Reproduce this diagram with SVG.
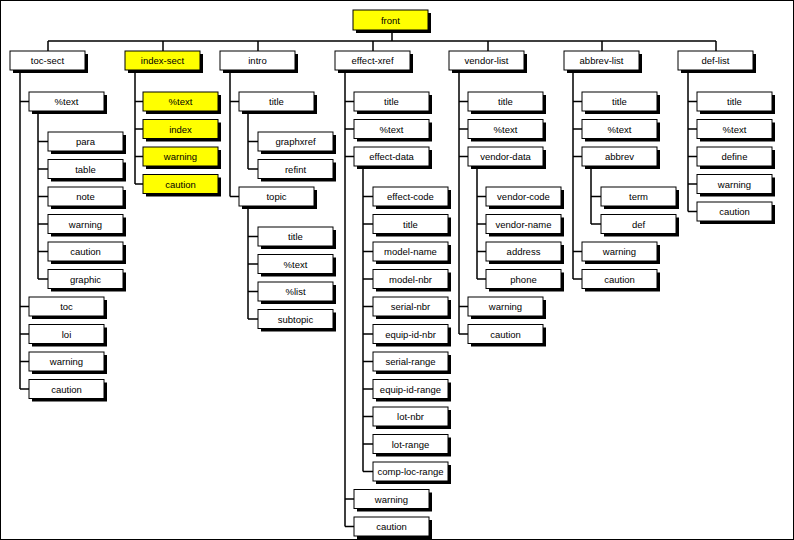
<svg xmlns="http://www.w3.org/2000/svg" width="794" height="540" viewBox="0 0 794 540">
<style>
.sh{fill:#000}
.bx{fill:#fff;stroke:#000;stroke-width:1}
.yl{fill:#ffff00}
.t{font-family:"Liberation Sans",Arial,sans-serif;font-size:9.5px;text-anchor:middle;fill:#000}
.c{fill:none;stroke:#000;stroke-width:1.5}
</style>
<defs>
<g id="box"><rect class="sh" x="3" y="3" width="75" height="19"/></g>
</defs>
<rect x="0.5" y="0.5" width="793" height="539" fill="#fff" stroke="#000" stroke-width="1"/>
<g id="connectors">
<path class="c" d="M392 30V41M48 41H716M48 41V51M163 41V51M258 41V51M373 41V51M488 41V51M602 41V51M716 41V51"/>
<!-- toc-sect -->
<path class="c" d="M20 70V389M20 101.5H29M20 306.5H29M20 334H29M20 361.5H29M20 389H29"/>
<path class="c" d="M38 111V279M38 141.5H48M38 169H48M38 196.5H48M38 224H48M38 251.5H48M38 279H48"/>
<!-- index-sect -->
<path class="c" d="M135 70V184M135 101.5H143M135 129H143M135 156.5H143M135 184H143"/>
<!-- intro -->
<path class="c" d="M230 70V196.5M230 101.5H239M230 196.5H239"/>
<path class="c" d="M248 111V169M248 141.5H258M248 169H258"/>
<path class="c" d="M248 206V319M248 236.5H258M248 264H258M248 291.5H258M248 319H258"/>
<!-- effect-xref -->
<path class="c" d="M345 70V526.5M345 101.5H354M345 129H354M345 156.5H354M345 499H354M345 526.5H354"/>
<path class="c" d="M363 166V471.5M363 196.5H373M363 224H373M363 251.5H373M363 279H373M363 306.5H373M363 334H373M363 361.5H373M363 389H373M363 416.5H373M363 444H373M363 471.5H373"/>
<!-- vendor-list -->
<path class="c" d="M459 70V334M459 101.5H468M459 129H468M459 156.5H468M459 306.5H468M459 334H468"/>
<path class="c" d="M477 166V279M477 196.5H486M477 224H486M477 251.5H486M477 279H486"/>
<!-- abbrev-list -->
<path class="c" d="M573 70V279M573 101.5H582M573 129H582M573 156.5H582M573 251.5H582M573 279H582"/>
<path class="c" d="M591 166V224M591 196.5H601M591 224H601"/>
<!-- def-list -->
<path class="c" d="M688 70V211.5M688 101.5H697M688 129H697M688 156.5H697M688 184H697M688 211.5H697"/>
</g>

<g id="front"><rect class="sh" x="356" y="13" width="75" height="20"/><rect class="bx yl" x="353" y="10" width="75" height="20"/><text class="t" x="390.5" y="23.5">front</text></g>

<g id="toc-sect"><use href="#box" x="10" y="51"/><rect class="bx" x="10" y="51" width="75" height="19"/><text class="t" x="47.5" y="64">toc-sect</text></g>
<g id="index-sect"><use href="#box" x="125" y="51"/><rect class="bx yl" x="125" y="51" width="75" height="19"/><text class="t" x="162.5" y="64">index-sect</text></g>
<g id="intro"><use href="#box" x="220" y="51"/><rect class="bx" x="220" y="51" width="75" height="19"/><text class="t" x="257.5" y="64">intro</text></g>
<g id="effect-xref"><use href="#box" x="335" y="51"/><rect class="bx" x="335" y="51" width="75" height="19"/><text class="t" x="372.5" y="64">effect-xref</text></g>
<g id="vendor-list"><use href="#box" x="449" y="51"/><rect class="bx" x="449" y="51" width="75" height="19"/><text class="t" x="486.5" y="64">vendor-list</text></g>
<g id="abbrev-list"><use href="#box" x="564" y="51"/><rect class="bx" x="564" y="51" width="75" height="19"/><text class="t" x="601.5" y="64">abbrev-list</text></g>
<g id="def-list"><use href="#box" x="678" y="51"/><rect class="bx" x="678" y="51" width="75" height="19"/><text class="t" x="715.5" y="64">def-list</text></g>

<!-- toc-sect children -->
<g id="toc-text"><use href="#box" x="29" y="92"/><rect class="bx" x="29" y="92" width="75" height="19"/><text class="t" x="66.5" y="105">%text</text></g>
<g id="toc-para"><use href="#box" x="48" y="132"/><rect class="bx" x="48" y="132" width="75" height="19"/><text class="t" x="85.5" y="145">para</text></g>
<g id="toc-table"><use href="#box" x="48" y="159.5"/><rect class="bx" x="48" y="159.5" width="75" height="19"/><text class="t" x="85.5" y="172.5">table</text></g>
<g id="toc-note"><use href="#box" x="48" y="187"/><rect class="bx" x="48" y="187" width="75" height="19"/><text class="t" x="85.5" y="200">note</text></g>
<g id="toc-warning1"><use href="#box" x="48" y="214.5"/><rect class="bx" x="48" y="214.5" width="75" height="19"/><text class="t" x="85.5" y="227.5">warning</text></g>
<g id="toc-caution1"><use href="#box" x="48" y="242"/><rect class="bx" x="48" y="242" width="75" height="19"/><text class="t" x="85.5" y="255">caution</text></g>
<g id="toc-graphic"><use href="#box" x="48" y="269.5"/><rect class="bx" x="48" y="269.5" width="75" height="19"/><text class="t" x="85.5" y="282.5">graphic</text></g>
<g id="toc-toc"><use href="#box" x="29" y="297"/><rect class="bx" x="29" y="297" width="75" height="19"/><text class="t" x="66.5" y="310">toc</text></g>
<g id="toc-loi"><use href="#box" x="29" y="324.5"/><rect class="bx" x="29" y="324.5" width="75" height="19"/><text class="t" x="66.5" y="337.5">loi</text></g>
<g id="toc-warning2"><use href="#box" x="29" y="352"/><rect class="bx" x="29" y="352" width="75" height="19"/><text class="t" x="66.5" y="365">warning</text></g>
<g id="toc-caution2"><use href="#box" x="29" y="379.5"/><rect class="bx" x="29" y="379.5" width="75" height="19"/><text class="t" x="66.5" y="392.5">caution</text></g>

<!-- index-sect children -->
<g id="idx-text"><use href="#box" x="143" y="92"/><rect class="bx yl" x="143" y="92" width="75" height="19"/><text class="t" x="180.5" y="105">%text</text></g>
<g id="idx-index"><use href="#box" x="143" y="119.5"/><rect class="bx yl" x="143" y="119.5" width="75" height="19"/><text class="t" x="180.5" y="132.5">index</text></g>
<g id="idx-warning"><use href="#box" x="143" y="147"/><rect class="bx yl" x="143" y="147" width="75" height="19"/><text class="t" x="180.5" y="160">warning</text></g>
<g id="idx-caution"><use href="#box" x="143" y="174.5"/><rect class="bx yl" x="143" y="174.5" width="75" height="19"/><text class="t" x="180.5" y="187.5">caution</text></g>

<!-- intro children -->
<g id="intro-title"><use href="#box" x="239" y="92"/><rect class="bx" x="239" y="92" width="75" height="19"/><text class="t" x="276.5" y="105">title</text></g>
<g id="intro-graphxref"><use href="#box" x="258" y="132"/><rect class="bx" x="258" y="132" width="75" height="19"/><text class="t" x="295.5" y="145">graphxref</text></g>
<g id="intro-refint"><use href="#box" x="258" y="159.5"/><rect class="bx" x="258" y="159.5" width="75" height="19"/><text class="t" x="295.5" y="172.5">refint</text></g>
<g id="intro-topic"><use href="#box" x="239" y="187"/><rect class="bx" x="239" y="187" width="75" height="19"/><text class="t" x="276.5" y="200">topic</text></g>
<g id="topic-title"><use href="#box" x="258" y="227"/><rect class="bx" x="258" y="227" width="75" height="19"/><text class="t" x="295.5" y="240">title</text></g>
<g id="topic-text"><use href="#box" x="258" y="254.5"/><rect class="bx" x="258" y="254.5" width="75" height="19"/><text class="t" x="295.5" y="267.5">%text</text></g>
<g id="topic-list"><use href="#box" x="258" y="282"/><rect class="bx" x="258" y="282" width="75" height="19"/><text class="t" x="295.5" y="295">%list</text></g>
<g id="topic-subtopic"><use href="#box" x="258" y="309.5"/><rect class="bx" x="258" y="309.5" width="75" height="19"/><text class="t" x="295.5" y="322.5">subtopic</text></g>

<!-- effect-xref children -->
<g id="ex-title"><use href="#box" x="354" y="92"/><rect class="bx" x="354" y="92" width="75" height="19"/><text class="t" x="391.5" y="105">title</text></g>
<g id="ex-text"><use href="#box" x="354" y="119.5"/><rect class="bx" x="354" y="119.5" width="75" height="19"/><text class="t" x="391.5" y="132.5">%text</text></g>
<g id="ex-effect-data"><use href="#box" x="354" y="147"/><rect class="bx" x="354" y="147" width="75" height="19"/><text class="t" x="391.5" y="160">effect-data</text></g>
<g id="ed-effect-code"><use href="#box" x="373" y="187"/><rect class="bx" x="373" y="187" width="75" height="19"/><text class="t" x="410.5" y="200">effect-code</text></g>
<g id="ed-title"><use href="#box" x="373" y="214.5"/><rect class="bx" x="373" y="214.5" width="75" height="19"/><text class="t" x="410.5" y="227.5">title</text></g>
<g id="ed-model-name"><use href="#box" x="373" y="242"/><rect class="bx" x="373" y="242" width="75" height="19"/><text class="t" x="410.5" y="255">model-name</text></g>
<g id="ed-model-nbr"><use href="#box" x="373" y="269.5"/><rect class="bx" x="373" y="269.5" width="75" height="19"/><text class="t" x="410.5" y="282.5">model-nbr</text></g>
<g id="ed-serial-nbr"><use href="#box" x="373" y="297"/><rect class="bx" x="373" y="297" width="75" height="19"/><text class="t" x="410.5" y="310">serial-nbr</text></g>
<g id="ed-equip-id-nbr"><use href="#box" x="373" y="324.5"/><rect class="bx" x="373" y="324.5" width="75" height="19"/><text class="t" x="410.5" y="337.5">equip-id-nbr</text></g>
<g id="ed-serial-range"><use href="#box" x="373" y="352"/><rect class="bx" x="373" y="352" width="75" height="19"/><text class="t" x="410.5" y="365">serial-range</text></g>
<g id="ed-equip-id-range"><use href="#box" x="373" y="379.5"/><rect class="bx" x="373" y="379.5" width="75" height="19"/><text class="t" x="410.5" y="392.5">equip-id-range</text></g>
<g id="ed-lot-nbr"><use href="#box" x="373" y="407"/><rect class="bx" x="373" y="407" width="75" height="19"/><text class="t" x="410.5" y="420">lot-nbr</text></g>
<g id="ed-lot-range"><use href="#box" x="373" y="434.5"/><rect class="bx" x="373" y="434.5" width="75" height="19"/><text class="t" x="410.5" y="447.5">lot-range</text></g>
<g id="ed-comp-loc-range"><use href="#box" x="373" y="462"/><rect class="bx" x="373" y="462" width="75" height="19"/><text class="t" x="410.5" y="475">comp-loc-range</text></g>
<g id="ex-warning"><use href="#box" x="354" y="489.5"/><rect class="bx" x="354" y="489.5" width="75" height="19"/><text class="t" x="391.5" y="502.5">warning</text></g>
<g id="ex-caution"><use href="#box" x="354" y="517"/><rect class="bx" x="354" y="517" width="75" height="19"/><text class="t" x="391.5" y="530">caution</text></g>

<!-- vendor-list children -->
<g id="vl-title"><use href="#box" x="468" y="92"/><rect class="bx" x="468" y="92" width="75" height="19"/><text class="t" x="505.5" y="105">title</text></g>
<g id="vl-text"><use href="#box" x="468" y="119.5"/><rect class="bx" x="468" y="119.5" width="75" height="19"/><text class="t" x="505.5" y="132.5">%text</text></g>
<g id="vl-vendor-data"><use href="#box" x="468" y="147"/><rect class="bx" x="468" y="147" width="75" height="19"/><text class="t" x="505.5" y="160">vendor-data</text></g>
<g id="vd-vendor-code"><use href="#box" x="486" y="187"/><rect class="bx" x="486" y="187" width="75" height="19"/><text class="t" x="523.5" y="200">vendor-code</text></g>
<g id="vd-vendor-name"><use href="#box" x="486" y="214.5"/><rect class="bx" x="486" y="214.5" width="75" height="19"/><text class="t" x="523.5" y="227.5">vendor-name</text></g>
<g id="vd-address"><use href="#box" x="486" y="242"/><rect class="bx" x="486" y="242" width="75" height="19"/><text class="t" x="523.5" y="255">address</text></g>
<g id="vd-phone"><use href="#box" x="486" y="269.5"/><rect class="bx" x="486" y="269.5" width="75" height="19"/><text class="t" x="523.5" y="282.5">phone</text></g>
<g id="vl-warning"><use href="#box" x="468" y="297"/><rect class="bx" x="468" y="297" width="75" height="19"/><text class="t" x="505.5" y="310">warning</text></g>
<g id="vl-caution"><use href="#box" x="468" y="324.5"/><rect class="bx" x="468" y="324.5" width="75" height="19"/><text class="t" x="505.5" y="337.5">caution</text></g>

<!-- abbrev-list children -->
<g id="al-title"><use href="#box" x="582" y="92"/><rect class="bx" x="582" y="92" width="75" height="19"/><text class="t" x="619.5" y="105">title</text></g>
<g id="al-text"><use href="#box" x="582" y="119.5"/><rect class="bx" x="582" y="119.5" width="75" height="19"/><text class="t" x="619.5" y="132.5">%text</text></g>
<g id="al-abbrev"><use href="#box" x="582" y="147"/><rect class="bx" x="582" y="147" width="75" height="19"/><text class="t" x="619.5" y="160">abbrev</text></g>
<g id="ab-term"><use href="#box" x="601" y="187"/><rect class="bx" x="601" y="187" width="75" height="19"/><text class="t" x="638.5" y="200">term</text></g>
<g id="ab-def"><use href="#box" x="601" y="214.5"/><rect class="bx" x="601" y="214.5" width="75" height="19"/><text class="t" x="638.5" y="227.5">def</text></g>
<g id="al-warning"><use href="#box" x="582" y="242"/><rect class="bx" x="582" y="242" width="75" height="19"/><text class="t" x="619.5" y="255">warning</text></g>
<g id="al-caution"><use href="#box" x="582" y="269.5"/><rect class="bx" x="582" y="269.5" width="75" height="19"/><text class="t" x="619.5" y="282.5">caution</text></g>

<!-- def-list children -->
<g id="dl-title"><use href="#box" x="697" y="92"/><rect class="bx" x="697" y="92" width="75" height="19"/><text class="t" x="734.5" y="105">title</text></g>
<g id="dl-text"><use href="#box" x="697" y="119.5"/><rect class="bx" x="697" y="119.5" width="75" height="19"/><text class="t" x="734.5" y="132.5">%text</text></g>
<g id="dl-define"><use href="#box" x="697" y="147"/><rect class="bx" x="697" y="147" width="75" height="19"/><text class="t" x="734.5" y="160">define</text></g>
<g id="dl-warning"><use href="#box" x="697" y="174.5"/><rect class="bx" x="697" y="174.5" width="75" height="19"/><text class="t" x="734.5" y="187.5">warning</text></g>
<g id="dl-caution"><use href="#box" x="697" y="202"/><rect class="bx" x="697" y="202" width="75" height="19"/><text class="t" x="734.5" y="215">caution</text></g>
</svg>
